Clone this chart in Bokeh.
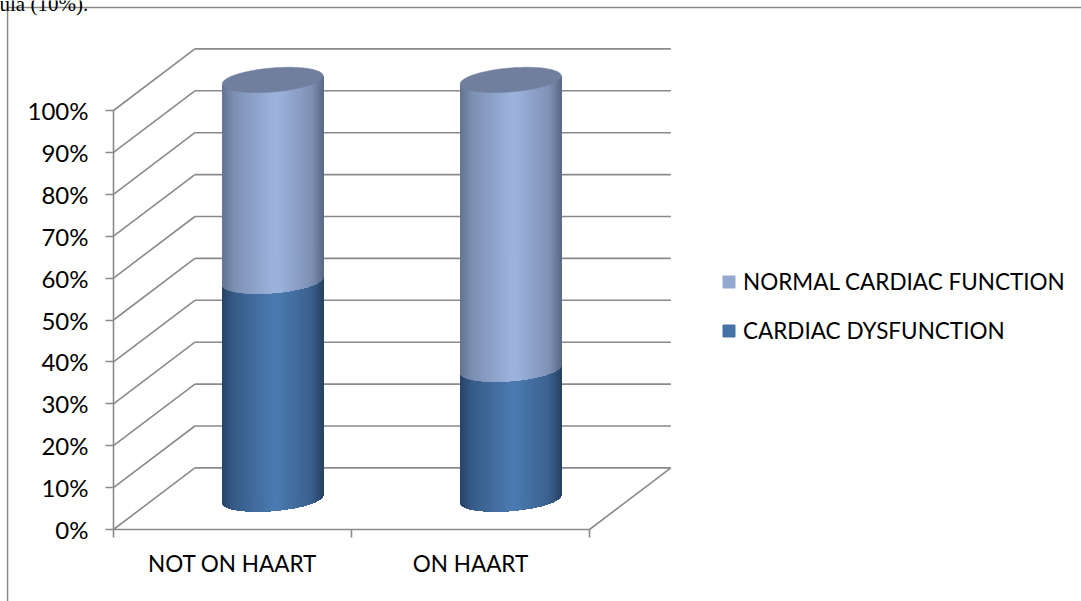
import numpy as np
from bokeh.embed import file_html
from bokeh.models import (BoxAnnotation, FixedTicker, Label, Legend, LegendItem,
                          LinearAxis, PrintfTickFormatter, Range1d)
from bokeh.plotting import figure
from bokeh.resources import INLINE

categories = ["NOT ON HAART", "ON HAART"]
dysfunction_pct = [52.0, 31.0]
normal_pct = [48.0, 69.0]
percent_ticks = [0, 10, 20, 30, 40, 50, 60, 70, 80, 90, 100]
legend_labels = ["NORMAL CARDIAC FUNCTION", "CARDIAC DYSFUNCTION"]

FONT = "Lato"
GREY = "#8a8a8a"
WIDTH, HEIGHT = 1081, 601
ORIGIN_X, ORIGIN_Y = 113, 529
X_UNIT, Y_UNIT = 238.0, 4.19

x_start = -ORIGIN_X / X_UNIT
y_start = -(HEIGHT - ORIGIN_Y) / Y_UNIT
p = figure(width=WIDTH, height=HEIGHT, output_backend="svg", toolbar_location=None,
           min_border=0, x_axis_type=None, y_axis_type=None,
           x_range=Range1d(x_start, (WIDTH - ORIGIN_X) / X_UNIT),
           y_range=Range1d(y_start, ORIGIN_Y / Y_UNIT))
p.outline_line_color = None
p.grid.visible = False
p.background_fill_color = "white"

# Depth of the floor and side wall, in axis units
depth_x, depth_y = 0.342, 14.7
for v in percent_ticks:
    p.line([0, depth_x], [v, v + depth_y], line_color=GREY, line_width=1.6)
    p.line([depth_x, 2 + depth_x], [v + depth_y, v + depth_y], line_color=GREY, line_width=1.6)
p.line([2, 2 + depth_x], [0, depth_y], line_color=GREY, line_width=1.6)

# Cylinder geometry, in axis units
half_w = 0.2122
tilt = 0.95
minor = 2.86
lift = 7.3
centre_shift = 0.169


def lower_arc(x, cx, level):
    r = np.clip((x - cx) / half_w, -1, 1)
    return level + tilt * r - minor * np.sqrt(1 - r * r)


def shade(u, edge_l, mid, edge_r):
    # Cylinder lighting: dark at the rims, brightest just left of the middle
    if u < 0.55:
        c = edge_l + (mid - edge_l) * np.interp(u, [0, 0.12, 0.5], [0, 0.45, 1])
    else:
        c = edge_r + (mid - edge_r) * np.interp(u, [0.55, 0.88, 1], [1, 0.55, 0])
    return "#%02x%02x%02x" % tuple(int(round(k)) for k in c)


def draw_segment(cx, low, high, edge_l, mid, edge_r):
    # Painted left to right; each strip runs on to the right rim so no seams show
    angles = np.linspace(np.pi, 0, 91)
    edges = cx + half_w * np.cos(angles)
    xs, ys, colours = [], [], []
    for k in range(len(edges) - 1):
        run = edges[k:]
        xs.append([*run, *run[::-1]])
        ys.append([*lower_arc(run, cx, low), *lower_arc(run[::-1], cx, high)])
        mid_x = (edges[k] + edges[k + 1]) / 2
        colours.append(shade((mid_x - cx + half_w) / (2 * half_w), edge_l, mid, edge_r))
    p.patches(xs, ys, fill_color=colours, line_color=None)


dark_band = (np.array([40, 68, 104.]), np.array([74, 122, 176.]), np.array([40, 66, 100.]))
light_band = (np.array([100, 116, 146.]), np.array([156, 178, 220.]), np.array([92, 106, 134.]))

for i in range(len(categories)):
    cx = i + 0.5 + centre_shift
    mid_level = lift + dysfunction_pct[i]
    top_level = mid_level + normal_pct[i]
    draw_segment(cx, lift, mid_level, *dark_band)
    draw_segment(cx, mid_level, top_level, *light_band)
    t = np.linspace(0, 2 * np.pi, 120)
    cap_x = cx + half_w * np.cos(t)
    cap_y = top_level + tilt * np.cos(t) + minor * np.sin(t)
    p.patch(cap_x, cap_y, fill_color="#707f9e", line_color="#707f9e", line_width=0.5)

# Axes sit inside the frame at the chart's origin
y_axis = LinearAxis(ticker=FixedTicker(ticks=percent_ticks), bounds=(0, 100), fixed_location=0,
                    formatter=PrintfTickFormatter(format="%d%%"))
y_axis.axis_line_color = GREY
y_axis.axis_line_width = 1.6
y_axis.major_tick_line_color = GREY
y_axis.major_tick_line_width = 1.6
y_axis.major_tick_out = 8
y_axis.major_tick_in = 0
y_axis.minor_tick_line_color = None
y_axis.major_label_standoff = 17
y_axis.major_label_text_font = FONT
y_axis.major_label_text_font_size = "24px"
y_axis.major_label_text_color = "black"
p.add_layout(y_axis, "left")

x_axis = LinearAxis(ticker=FixedTicker(ticks=[0.5, 1.5], minor_ticks=[0, 1, 2]), bounds=(0, 2),
                    fixed_location=0,
                    major_label_overrides={i + 0.5: c for i, c in enumerate(categories)})
x_axis.axis_line_color = GREY
x_axis.axis_line_width = 1.6
x_axis.major_tick_line_color = None
x_axis.major_tick_out = 0
x_axis.major_tick_in = 0
x_axis.minor_tick_line_color = GREY
x_axis.minor_tick_line_width = 1.6
x_axis.minor_tick_out = 8
x_axis.minor_tick_in = 0
x_axis.major_label_standoff = 12
x_axis.major_label_text_font = FONT
x_axis.major_label_text_font_size = "22.5px"
x_axis.major_label_text_color = "black"
p.add_layout(x_axis, "below")

# Legend keys take their colours from two renderers parked left of the visible range
swatch_normal = p.quad(left=[x_start - 2], right=[x_start - 1], top=[1], bottom=[0],
                       fill_color="#93a9cf", line_color="#93a9cf")
swatch_dys = p.quad(left=[x_start - 2], right=[x_start - 1], top=[1], bottom=[0],
                    fill_color="#4572a7", line_color="#4572a7")
legend = Legend(items=[LegendItem(label=legend_labels[0], renderers=[swatch_normal]),
                       LegendItem(label=legend_labels[1], renderers=[swatch_dys])],
                location=(721, 257), orientation="vertical",
                glyph_width=15, glyph_height=15, label_standoff=7, spacing=22,
                padding=0, margin=0, border_line_color=None, background_fill_alpha=0,
                label_text_font=FONT, label_text_font_size="22.5px", label_text_color="black")
p.add_layout(legend, "center")

# Page furniture: tail of the sentence above the chart and the box drawn around it
p.add_layout(BoxAnnotation(left=6.3, right=7.8, top=HEIGHT - 7, bottom=0, left_units="screen", right_units="screen",
                           top_units="screen", bottom_units="screen", fill_color=GREY, fill_alpha=1,
                           line_color=None))
p.add_layout(BoxAnnotation(left=6.3, right=WIDTH, top=HEIGHT - 6.3, bottom=HEIGHT - 7.8, left_units="screen",
                           right_units="screen", top_units="screen", bottom_units="screen",
                           fill_color=GREY, fill_alpha=1, line_color=None))
p.add_layout(Label(x=-1, y=HEIGHT - 3, x_units="screen", y_units="screen", text="ula (10%).",
                   text_font="Liberation Serif", text_font_size="21px", text_color="black",
                   text_baseline="alphabetic"))

open("out.html", "w").write(file_html(p, INLINE))
